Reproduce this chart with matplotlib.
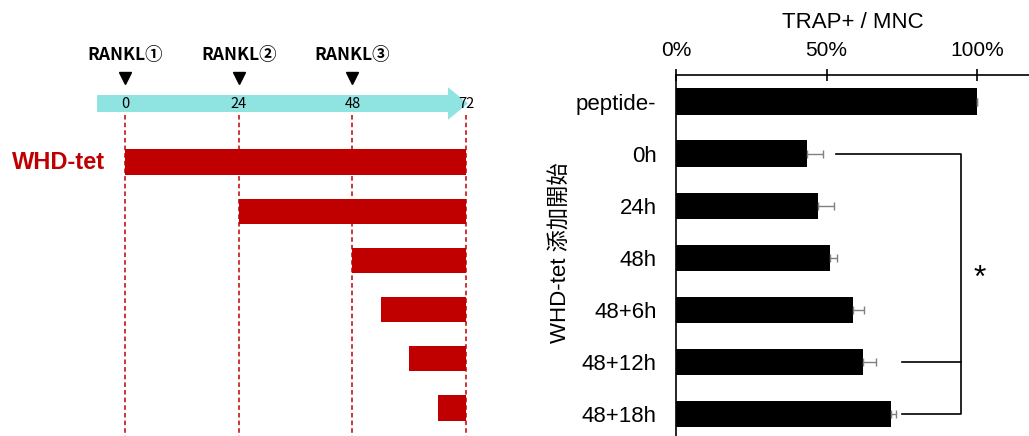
import numpy as np
import matplotlib
matplotlib.use("Agg")
import matplotlib.pyplot as plt
from matplotlib.patches import Polygon

# timeline (left panel)
hours = [0, 24, 48, 72]
rankl_labels = ["RANKL①", "RANKL②", "RANKL③"]
rankl_hours = [0, 24, 48]
start_hours = [0, 24, 48, 54, 60, 66]
end_hour = 72

# bar chart (right panel)
groups = ["peptide-", "0h", "24h", "48h", "48+6h", "48+12h", "48+18h"]
means = [100, 43.4, 47.2, 51.0, 58.6, 62.2, 71.5]
errs = [0.0, 5.3, 5.2, 2.4, 3.8, 4.3, 1.5]

RED = "#C00000"
CYAN = "#8FE3E1"

fig = plt.figure(figsize=(10.29, 4.36), dpi=100)

# ---- left: timeline ----
ax1 = fig.add_axes([0, 0, 540 / 1029, 1])
ax1.axis("off")
pxh = 341 / 72
ax1.set_xlim(-125 / pxh, (540 - 125) / pxh)
ax1.set_ylim(5.569, -3.293)

rows = np.arange(len(start_hours))
widths = [end_hour - s for s in start_hours]
ax1.barh(rows, widths, left=start_hours, height=0.51, color=RED, zorder=2)

ax1.vlines(hours, -0.955, 5.6, colors=RED, linestyles=(0, (3, 2)), lw=1.1, zorder=3)

# arrow
yc, bh, hh = -1.189, 0.173, 0.33
x0, xt = hours[0] - 5.9, hours[-1] + 0.4
xh = xt - 4.2
arrow = Polygon([(x0, yc - bh), (xh, yc - bh), (xh, yc - hh), (xt, yc),
                 (xh, yc + hh), (xh, yc + bh), (x0, yc + bh)],
                closed=True, facecolor=CYAN, edgecolor="none", zorder=1)
ax1.add_patch(arrow)
for h in hours:
    ax1.text(h, yc, str(h), ha="center", va="center", fontsize=10.5,
             family=["Noto Sans CJK JP", "DejaVu Sans"], zorder=4)

ax1.plot(rankl_hours, [-1.707] * len(rankl_hours), "v", color="black", ms=9)
for h, lab in zip(rankl_hours, rankl_labels):
    ax1.text(h, -2.175, lab, ha="center", va="center", fontsize=12.5,
             fontweight="bold", family=["Noto Sans CJK JP", "DejaVu Sans"])

ax1.text(-113 / pxh, 0, "WHD-tet", ha="left", va="center", fontsize=17,
         fontweight="bold", color=RED, family="Liberation Sans")

# ---- right: bar chart ----
ax2 = fig.add_axes([676 / 1029, 0, 353 / 1029, 361 / 436])
y = np.arange(len(groups))
ax2.barh(y, means, xerr=[np.zeros(len(errs)), errs], height=0.51, color="black",
         error_kw=dict(ecolor="#808080", elinewidth=1, capsize=3, capthick=1))
ax2.set_xlim(0, 117.2)
ax2.set_ylim(6.423, -0.513)

ax2.xaxis.tick_top()
ax2.set_xticks([0, 50, 100])
ax2.set_xticklabels(["0%", "50%", "100%"], family="Liberation Sans", fontsize=15)
ax2.tick_params(axis="x", direction="inout", length=9, width=1.2, pad=6.5)
ax2.set_yticks(y)
ax2.set_yticklabels(groups, family="Liberation Sans", fontsize=16)
ax2.tick_params(axis="y", length=0, pad=14)
for s in ["bottom", "right"]:
    ax2.spines[s].set_visible(False)
for s in ["top", "left"]:
    ax2.spines[s].set_linewidth(1.2)

ax2.xaxis.set_label_position("top")
ax2.set_xlabel("TRAP+ / MNC", family="Liberation Sans", fontsize=16, labelpad=9)

# significance bracket
ax2.plot([53.1, 94.6, 94.6, 75.2], [1, 1, 6, 6], color="black", lw=1.2, clip_on=False)
ax2.plot([75.2, 94.6], [5, 5], color="black", lw=1.2, clip_on=False)
ax2.text(100.9, 3.4, "*", ha="center", va="center", fontsize=23,
         family="Liberation Sans", clip_on=False)

fig.text(560 / 1029, 1 - 253 / 436, "WHD-tet 添加開始", rotation=90,
         ha="center", va="center", fontsize=16,
         family=["Liberation Sans", "Noto Sans CJK JP"])

fig.savefig("out.png", dpi=100)
